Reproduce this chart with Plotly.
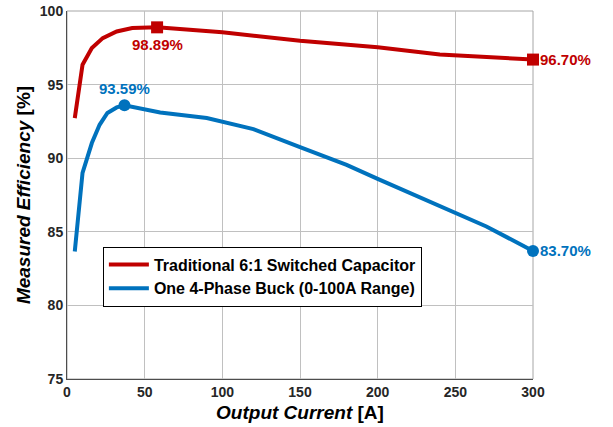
import plotly.graph_objects as go

# ---- data ----
sc_current = [5, 10, 16, 23, 32, 42, 58, 100, 150, 200, 240, 300]
sc_eff = [92.72, 96.35, 97.48, 98.16, 98.61, 98.84, 98.89, 98.55, 97.98, 97.53, 97.05, 96.70]

buck_current = [5, 10, 16, 21, 26, 32, 37, 47, 60, 90, 120, 150, 180, 200, 270, 300]
buck_eff = [83.66, 89.0, 91.03, 92.27, 93.07, 93.45, 93.59, 93.4, 93.1, 92.73, 91.98, 90.75, 89.55, 88.6, 85.36, 83.70]

sc_name = "Traditional 6:1 Switched Capacitor"
buck_name = "One 4-Phase Buck (0-100A Range)"
x_ticks = [0, 50, 100, 150, 200, 250, 300]
y_ticks = [75, 80, 85, 90, 95, 100]

RED = "#C00000"
BLUE = "#0072BD"
FONT = "Liberation Sans, Arial, sans-serif"

fig = go.Figure()
fig.add_trace(go.Scatter(x=sc_current, y=sc_eff, mode="lines", name="<b>" + sc_name + "</b>",
                         line=dict(color=RED, width=4)))
fig.add_trace(go.Scatter(x=buck_current, y=buck_eff, mode="lines", name="<b>" + buck_name + "</b>",
                         line=dict(color=BLUE, width=4)))

sc_pk = sc_eff.index(max(sc_eff))
bk_pk = buck_eff.index(max(buck_eff))
fig.add_trace(go.Scatter(x=[sc_current[sc_pk], sc_current[-1]], y=[sc_eff[sc_pk], sc_eff[-1]],
                         mode="markers", showlegend=False, cliponaxis=False,
                         marker=dict(symbol="square", size=12, color=RED)))
fig.add_trace(go.Scatter(x=[buck_current[bk_pk], buck_current[-1]], y=[buck_eff[bk_pk], buck_eff[-1]],
                         mode="markers", showlegend=False, cliponaxis=False,
                         marker=dict(symbol="circle", size=12, color=BLUE)))

def lab(x, y, color, xanchor, yshift, xshift):
    fig.add_annotation(x=x, y=y, text="<b>%.2f%%</b>" % y, showarrow=False,
                       font=dict(family=FONT, size=15, color=color),
                       xanchor=xanchor, yshift=yshift, xshift=xshift)

lab(sc_current[sc_pk], sc_eff[sc_pk], RED, "center", -17, 0)
lab(sc_current[-1], sc_eff[-1], RED, "left", 0, 5)
lab(buck_current[bk_pk], buck_eff[bk_pk], BLUE, "center", 17, 0)
lab(buck_current[-1], buck_eff[-1], BLUE, "left", 0, 5)

fig.add_shape(type="rect", xref="paper", yref="paper", x0=0, y0=0, x1=1, y1=1,
              line=dict(color="#a6a6a6", width=1), layer="below")

axis_common = dict(showgrid=True, gridcolor="#c0c0c0", gridwidth=1, zeroline=False,
                   showline=True, linecolor="#4d4d4d", linewidth=1, ticks="",
                   automargin=False,
                   tickfont=dict(family=FONT, size=14, color="#262626", weight="bold"))

fig.update_xaxes(range=[0, 300], tickvals=x_ticks, **axis_common,
                 title=dict(text="<b><i>Output Current</i> [A]</b>",
                            font=dict(family=FONT, size=19, color="#000"), standoff=6))
fig.update_yaxes(range=[75, 100], tickvals=y_ticks, **axis_common,
                 title=dict(text="<b><i>Measured Efficiency</i> [%]</b>",
                            font=dict(family=FONT, size=19, color="#000"), standoff=4))

fig.update_layout(
    width=613, height=427,
    margin=dict(l=67, r=80, t=11, b=48, autoexpand=False),
    plot_bgcolor="white", paper_bgcolor="white",
    font=dict(family=FONT),
    legend=dict(x=0.077, y=0.36, xanchor="left", yanchor="top",
                bgcolor="white", bordercolor="#000", borderwidth=1,
                font=dict(family=FONT, size=16, color="#000"),
                itemwidth=40, tracegroupgap=0),
)

fig.write_html("out.html", config={"displayModeBar": False},
               post_script="document.body.style.margin='0';document.body.style.overflow='hidden';")
